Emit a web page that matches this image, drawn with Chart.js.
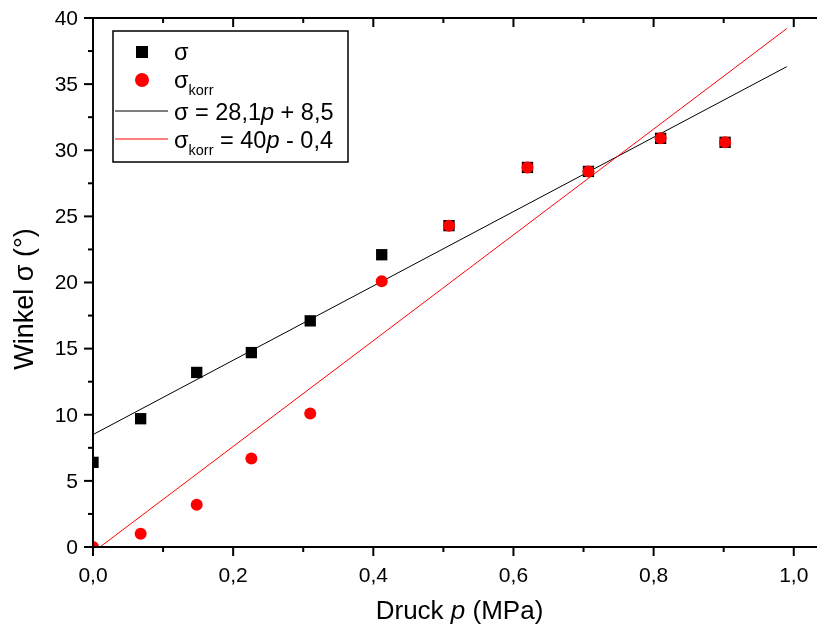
<!DOCTYPE html>
<html>
<head>
<meta charset="utf-8">
<script src="https://cdn.jsdelivr.net/npm/chart.js@4/dist/chart.umd.min.js"></script>
<style>
  html, body { margin: 0; padding: 0; background: #fff; overflow: hidden; }
  #chart { display: block; }
</style>
</head>
<body>
<canvas id="chart" width="840" height="633"></canvas>
<script>
// Messwerte: Druck in MPa, Winkel in Grad
const pressure = [0.0, 0.068, 0.148, 0.226, 0.31, 0.412, 0.508, 0.62, 0.707, 0.81, 0.902]
const sigma = [6.4, 9.7, 13.2, 14.7, 17.1, 22.1, 24.3, 28.7, 28.4, 30.9, 30.6]
const sigmaKorr = [0.0, 1.0, 3.2, 6.7, 10.1, 20.1, 24.3, 28.7, 28.4, 30.9, 30.6]

// lineare Fits (Steigung, Achsenabschnitt) und Bereich der Fitgeraden
const fitSigma = [28.1, 8.5]
const fitKorr = [40, -0.4]
const fitRange = [0.0, 0.99]

const xMajor = [0.0, 0.2, 0.4, 0.6, 0.8, 1.0]
const xLabels = ["0,0", "0,2", "0,4", "0,6", "0,8", "1,0"]
const xMinor = [0.1, 0.3, 0.5, 0.7, 0.9]
const yMajor = [0, 5, 10, 15, 20, 25, 30, 35, 40]
const yLabels = ["0", "5", "10", "15", "20", "25", "30", "35", "40"]
const yMinor = [2.5, 7.5, 12.5, 17.5, 22.5, 27.5, 32.5, 37.5]

const FONT = 'Arial, "Liberation Sans", sans-serif'

const points = (xs, ys) => xs.map((x, i) => ({ x, y: ys[i] }))
const fitLine = (fit) => fitRange.map(x => ({ x, y: fit[0] * x + fit[1] }))

// Text aus Stuecken mit eigener Schrift / Versatz (Index, kursiv)
function drawRuns(ctx, runs, x, y) {
  ctx.textBaseline = "alphabetic"
  ctx.textAlign = "left"
  for (const r of runs) {
    ctx.font = r.font
    ctx.fillText(r.t, x, y + (r.dy || 0))
    x += ctx.measureText(r.t).width
  }
  return x
}

const frame = {
  id: "frame",
  afterDatasetsDraw(chart) {
    const ctx = chart.ctx
    const a = chart.chartArea
    const xs = chart.scales.x
    const ys = chart.scales.y
    ctx.save()
    ctx.strokeStyle = "#000"
    ctx.fillStyle = "#000"
    ctx.lineWidth = 2
    ctx.strokeRect(a.left, a.top, a.right - a.left, a.bottom - a.top)

    const tick = (x1, y1, x2, y2) => {
      ctx.beginPath()
      ctx.moveTo(x1, y1)
      ctx.lineTo(x2, y2)
      ctx.stroke()
    }
    for (const v of xMajor) {
      const px = xs.getPixelForValue(v)
      tick(px, a.bottom, px, a.bottom + 9)
      tick(px, a.top, px, a.top + 9)
    }
    for (const v of xMinor) {
      const px = xs.getPixelForValue(v)
      tick(px, a.bottom, px, a.bottom + 5)
      tick(px, a.top, px, a.top + 5)
    }
    for (const v of yMajor) {
      const py = ys.getPixelForValue(v)
      tick(a.left - 9, py, a.left, py)
      tick(a.right - 9, py, a.right, py)
    }
    for (const v of yMinor) {
      const py = ys.getPixelForValue(v)
      tick(a.left - 5, py, a.left, py)
      tick(a.right - 5, py, a.right, py)
    }

    // Achsenbeschriftung
    ctx.font = "21px " + FONT
    ctx.textAlign = "center"
    ctx.textBaseline = "top"
    xMajor.forEach((v, i) => ctx.fillText(xLabels[i], xs.getPixelForValue(v), a.bottom + 19))
    ctx.textAlign = "right"
    ctx.textBaseline = "middle"
    yMajor.forEach((v, i) => ctx.fillText(yLabels[i], a.left - 15, ys.getPixelForValue(v) + 1))

    // Achsentitel
    const xTitle = [
      { t: "Druck ", font: "26px " + FONT },
      { t: "p", font: "italic 26px " + FONT },
      { t: " (MPa)", font: "26px " + FONT }
    ]
    let w = 0
    for (const r of xTitle) { ctx.font = r.font; w += ctx.measureText(r.t).width }
    drawRuns(ctx, xTitle, (a.left + a.right) / 2 - w / 2, 619)

    ctx.save()
    ctx.translate(33, 299)
    ctx.rotate(-Math.PI / 2)
    ctx.font = "27px " + FONT
    ctx.textAlign = "center"
    ctx.textBaseline = "alphabetic"
    ctx.fillText("Winkel \u03c3 (\u00b0)", 0, 0)
    ctx.restore()

    // Legende
    const lx = 113, ly = 31, lw = 235, lh = 131
    ctx.fillStyle = "#fff"
    ctx.fillRect(lx, ly, lw, lh)
    ctx.lineWidth = 1.5
    ctx.strokeStyle = "#000"
    ctx.strokeRect(lx, ly, lw, lh)

    ctx.fillStyle = "#000"
    ctx.fillRect(136, 46, 12, 12)
    ctx.fillStyle = "#ff0000"
    ctx.beginPath()
    ctx.arc(142, 80, 7, 0, Math.PI * 2)
    ctx.fill()

    ctx.lineWidth = 1
    ctx.strokeStyle = "#000"
    tick(115, 111, 168, 111)
    ctx.strokeStyle = "#ff0000"
    tick(115, 139, 168, 139)

    ctx.fillStyle = "#000"
    const f = "23.5px " + FONT
    const fi = "italic 23.5px " + FONT
    const fs = "14.5px " + FONT
    drawRuns(ctx, [{ t: "\u03c3", font: f }], 174, 60)
    drawRuns(ctx, [{ t: "\u03c3", font: f }, { t: "korr", font: fs, dy: 7 }], 174, 88)
    drawRuns(ctx, [
      { t: "\u03c3 = 28,1", font: f }, { t: "p", font: fi }, { t: " + 8,5", font: f }
    ], 174, 120)
    drawRuns(ctx, [
      { t: "\u03c3", font: f }, { t: "korr", font: fs, dy: 7 },
      { t: " = 40", font: f }, { t: "p", font: fi }, { t: " - 0,4", font: f }
    ], 174, 148)
    ctx.restore()
  }
}

new Chart(document.getElementById("chart"), {
  type: "scatter",
  data: {
    datasets: [
      {
        label: "\u03c3korr",
        data: points(pressure, sigmaKorr),
        pointStyle: "circle",
        pointRadius: 6,
        backgroundColor: "#ff0000",
        borderColor: "#ff0000",
        borderWidth: 0,
        clip: 0,
        order: 0
      },
      {
        label: "\u03c3",
        data: points(pressure, sigma),
        pointStyle: "rect",
        pointRadius: 8,
        backgroundColor: "#000",
        borderColor: "#000",
        borderWidth: 0,
        clip: 0,
        order: 1
      },
      {
        label: "Fit \u03c3korr",
        data: fitLine(fitKorr),
        showLine: true,
        pointRadius: 0,
        borderColor: "#ff0000",
        borderWidth: 1,
        clip: 0,
        order: 2
      },
      {
        label: "Fit \u03c3",
        data: fitLine(fitSigma),
        showLine: true,
        pointRadius: 0,
        borderColor: "#000",
        borderWidth: 1,
        clip: 0,
        order: 3
      }
    ]
  },
  options: {
    responsive: false,
    animation: false,
    layout: { padding: { left: 93, top: 18, right: 14, bottom: 86 } },
    plugins: { legend: { display: false }, tooltip: { enabled: false } },
    scales: {
      x: { type: "linear", display: false, min: 0, max: 1.046 },
      y: { type: "linear", display: false, min: 0, max: 40 }
    }
  },
  plugins: [frame]
})
</script>
</body>
</html>
